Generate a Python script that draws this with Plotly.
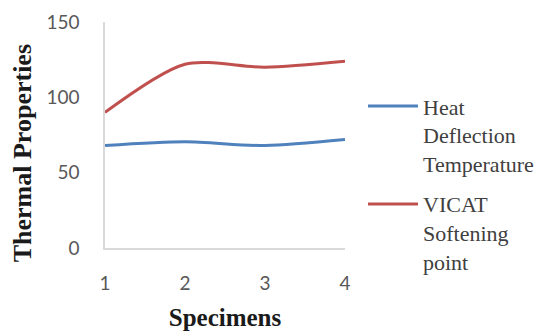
import plotly.graph_objects as go

specimens = [1, 2, 3, 4]
heat_deflection = [68, 70.5, 68, 72]
vicat_softening = [90, 122, 120, 124]
series_names = ["Heat<br>Deflection<br>Temperature", "VICAT<br>Softening<br>point"]
y_ticks = [0, 50, 100, 150]

fig = go.Figure()
fig.add_trace(go.Scatter(
    x=specimens, y=heat_deflection, name=series_names[0], mode="lines",
    line=dict(color="#4F81BD", width=3, shape="spline", smoothing=0.8),
    legendgroup="hdt",
))
fig.add_trace(go.Scatter(
    x=specimens, y=vicat_softening, name=series_names[1], mode="lines",
    line=dict(color="#C0504D", width=3, shape="spline", smoothing=0.8),
    legendgroup="vicat",
))

serif = "Liberation Serif, Times New Roman, serif"
tick_font = dict(family="Lato", size=19, color="#595959")
title_font = dict(family=serif, size=25, color="#1a1a1a")

fig.update_layout(
    width=550, height=336,
    margin=dict(l=105, r=205, t=22, b=88, autoexpand=False),
    paper_bgcolor="white", plot_bgcolor="white",
    showlegend=True,
    legend=dict(
        x=1.075, y=0.72, xanchor="left", yanchor="top",
        font=dict(family=serif, size=22, color="#404040"),
        valign="top", itemwidth=50, tracegroupgap=9,
        bgcolor="rgba(0,0,0,0)",
    ),
    annotations=[dict(
        text="<b>Thermal Properties</b>", textangle=-90,
        xref="paper", yref="paper", x=-0.345, y=0.42,
        xanchor="center", yanchor="middle", showarrow=False,
        font=dict(family=serif, size=26, color="#1a1a1a"),
    )],
)
fig.update_xaxes(
    range=[1, 4], tickvals=specimens, showgrid=False, zeroline=False,
    showline=True, linecolor="#d9d9d9", linewidth=1.5, automargin=False,
    tickfont=tick_font, ticks="", ticklabelstandoff=17,
    title=dict(text="<b>Specimens</b>", font=title_font, standoff=16),
)
fig.update_yaxes(
    range=[0, 150], tickvals=y_ticks, showgrid=False, zeroline=False,
    showline=True, linecolor="#d9d9d9", linewidth=1.5, automargin=False,
    tickfont=tick_font, ticks="", ticklabelstandoff=20,
)

fig.write_html("out.html")
